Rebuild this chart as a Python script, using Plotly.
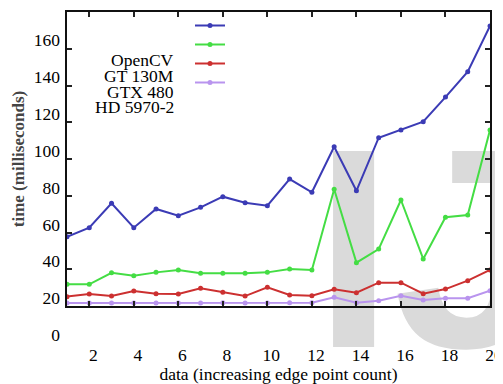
import plotly.graph_objects as go

# ---------------- data ----------------
x_vals = list(range(1, 21))
series_names = ["OpenCV", "GT 130M", "GTX 480", "HD 5970-2"]
opencv = [57.7, 62.6, 75.9, 62.6, 72.8, 69.1, 73.7, 79.5, 76.2, 74.6,
          89.1, 81.9, 106.7, 82.7, 111.6, 115.8, 120.3, 133.7, 147.5, 172.4]
gt130m = [31.8, 31.8, 38.1, 36.5, 38.3, 39.6, 37.8, 37.8, 37.8, 38.3,
          40.1, 39.6, 83.5, 43.6, 51.0, 77.7, 45.6, 68.3, 69.5, 115.8]
gtx480 = [25.1, 26.5, 25.4, 28.2, 26.7, 26.5, 29.6, 27.5, 25.4, 30.2,
          26.0, 25.6, 29.1, 27.2, 32.7, 32.7, 26.7, 29.2, 33.8, 39.6]
hd5970 = [21.6, 21.6, 21.7, 21.6, 21.7, 21.6, 21.7, 21.8, 21.7, 21.7,
          21.8, 21.8, 24.7, 21.8, 22.9, 25.6, 23.3, 24.2, 24.2, 28.3]
series_values = [opencv, gt130m, gtx480, hd5970]
series_colors = ["#3b3bb5", "#44dd44", "#cc3030", "#b994ee"]

x_tick_vals = list(range(2, 21, 2))
y_tick_vals = list(range(20, 161, 20))
y_label_vals = list(range(0, 161, 20))
x_title = "data (increasing edge point count)"
y_title = "time (milliseconds)"
watermark = "IJ"

# ---------------- geometry (target window pixels) ----------------
WIN_W, WIN_H = 503, 384
OFF = 8                      # default page body margin
W, H = WIN_W - OFF, WIN_H - OFF
FRAME_L, FRAME_R, FRAME_T, FRAME_B = 67, 490, 12, 306
AREA_B = 364                 # bottom of the plotting area (incl. label axis)
ML = FRAME_L - OFF
MT = FRAME_T - OFF
MR = W - (FRAME_R - OFF)
MB = H - (AREA_B - OFF)
plot_h = H - MT - MB
plot_w = W - ML - MR
y_range = [20, 180]

# the printed tick labels sit slightly off the tick marks in the original
LABEL0_PX, LABEL160_PX = 335, 40
lab_ppu = (LABEL0_PX - LABEL160_PX) / 160
y2_top = (LABEL0_PX - FRAME_T) / lab_ppu
y2_range = [-4, y2_top]
y2_bottom_px = LABEL0_PX + 4 * lab_ppu


def py(px):
    return (AREA_B - px) / plot_h


def pxx(px):
    return (px - FRAME_L) / plot_w


SERIF = "Liberation Serif, Times New Roman, serif"
FS = 17.5

fig = go.Figure()
for name, vals, col in zip(series_names, series_values, series_colors):
    fig.add_trace(go.Scatter(
        x=x_vals, y=vals, name=name, mode="lines+markers",
        line=dict(color=col, width=2),
        marker=dict(color=col, size=5),
    ))
# empty helper trace so the label-only axis is drawn
fig.add_trace(go.Scatter(x=[], y=[], yaxis="y2", showlegend=False,
                         hoverinfo="skip", mode="lines"))

fig.update_layout(
    width=W, height=H,
    margin=dict(l=ML, r=MR, t=MT, b=MB, autoexpand=False),
    paper_bgcolor="white",
    plot_bgcolor="rgba(0,0,0,0)",
    font=dict(family=SERIF, size=FS, color="black"),
    showlegend=True,
    legend=dict(
        x=pxx(190), y=py(11), xanchor="left", yanchor="top",
        bgcolor="rgba(0,0,0,0)", borderwidth=0,
        font=dict(size=11, color="rgba(0,0,0,0)"),
        itemclick=False,
    ),
    xaxis=dict(
        range=[1, 20], anchor="y", tickvals=x_tick_vals,
        ticks="inside", ticklen=5, tickwidth=1.5, tickcolor="#222",
        showline=True, linewidth=2, linecolor="#111", mirror="ticks",
        showgrid=False, zeroline=False,
        ticklabelstandoff=32, ticklabelshift=4,
        tickfont=dict(family=SERIF, size=FS, color="black"),
        title=dict(text=x_title, standoff=0,
                   font=dict(family=SERIF, size=FS, color="black")),
        automargin=False,
    ),
    yaxis=dict(
        range=y_range, domain=[py(FRAME_B), 1], anchor="x",
        tickvals=y_tick_vals, showticklabels=False,
        ticks="inside", ticklen=5, tickwidth=1.5, tickcolor="#222",
        showline=True, linewidth=2, linecolor="#111", mirror="ticks",
        showgrid=False, zeroline=False,
        title=dict(text=y_title, standoff=36,
                   font=dict(family=SERIF, size=17, color="#444", weight="bold")),
        automargin=False,
    ),
    yaxis2=dict(
        range=y2_range, domain=[py(y2_bottom_px), 1], anchor="x",
        tickvals=y_label_vals, ticks="", showline=False,
        showgrid=False, zeroline=False,
        ticklabelstandoff=6,
        tickfont=dict(family=SERIF, size=FS, color="black"),
        automargin=False,
    ),
)

# legend labels (drawn left of the samples, as in the original)
label_right_px = 176
label_centers_px = [60, 76, 91.5, 107]
for name, cy in zip(series_names, label_centers_px):
    fig.add_annotation(
        text=name, xref="paper", yref="paper",
        x=pxx(label_right_px), y=py(cy), xanchor="right", yanchor="middle",
        showarrow=False, font=dict(family=SERIF, size=FS, color="black"),
    )

# faint background watermark
fig.add_shape(
    type="rect", xref="paper", yref="paper", layer="below",
    x0=pxx(311), x1=pxx(540), y0=py(325), y1=py(117),
    line=dict(width=0), fillcolor="rgba(0,0,0,0)",
    label=dict(text=watermark, textposition="middle left", padding=0,
               font=dict(family="Liberation Sans, Arial, sans-serif",
                         size=285, color="#dadada", weight="bold")),
)

fig.write_html("out.html")
